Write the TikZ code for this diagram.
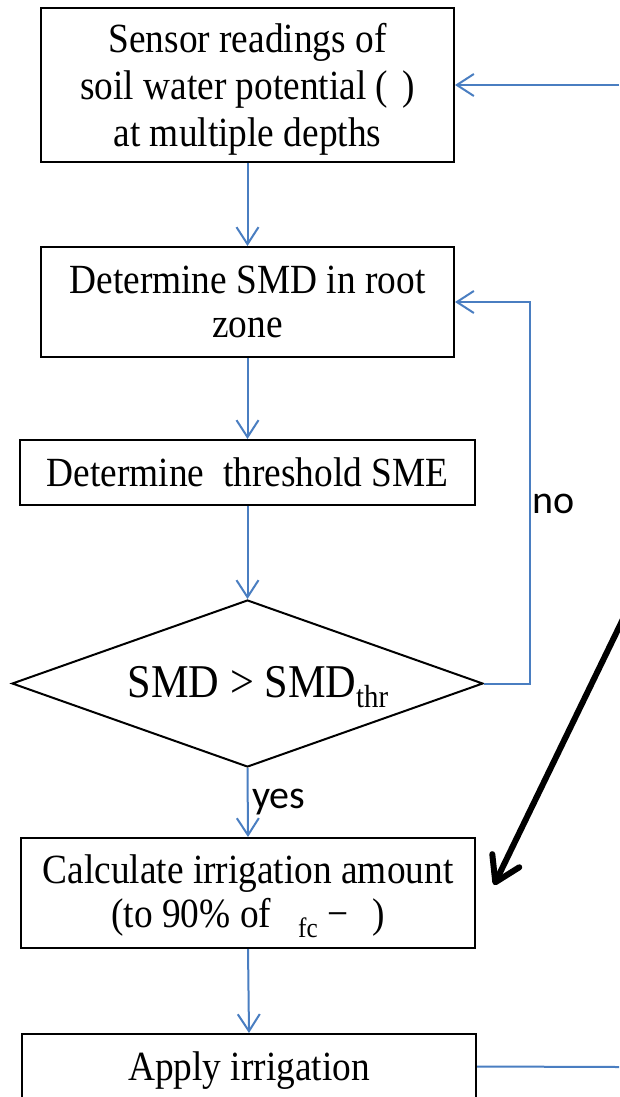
\documentclass[tikz,border=0pt]{standalone}
\usepackage{fontspec}
\setmainfont{Liberation Serif}[FakeStretch=0.9]
\newfontfamily\calib{Carlito}
\usetikzlibrary{arrows.meta,shapes.geometric}
\definecolor{flowblue}{RGB}{74,126,193}
\newcommand{\lowsub}[1]{\raisebox{-10pt}{\fontsize{28}{28}\selectfont #1}}
\newcommand{\topstrut}[1]{\rule{0pt}{#1}}
\begin{document}
\begin{tikzpicture}[x=1pt,y=-1pt,
  box/.style={draw=black,line width=2pt,inner sep=0pt,align=center,font=\fontsize{41.5}{44}\selectfont},
  decision/.style={draw=black,line width=2pt,shape=diamond,inner sep=0pt},
  dtext/.style={inner sep=0pt,anchor=base,font=\fontsize{47}{48}\selectfont},
  link/.style={draw=flowblue,line width=2pt,-{Straight Barb[length=17pt,width=22pt,line width=2pt]}},
  plain/.style={draw=flowblue,line width=2pt},
  bigarrow/.style={draw=black,line width=6pt,line cap=round,-{Straight Barb[length=24pt,width=30pt,line width=6pt,line cap=round,line join=round]}},
  lab/.style={font=\calib\fontsize{40}{48}\selectfont,inner sep=0pt,anchor=base west},
]
\useasboundingbox (0,0) rectangle (619,1097);

\node[box,font=\fontsize{41.5}{47}\selectfont,minimum width=413pt,minimum height=154pt] (b1) at (247.5,85)
  {\topstrut{38.8pt}Sensor readings of\\soil water potential (\hspace{14pt})\\at multiple depths};
\node[box,minimum width=413pt,minimum height=110pt] (b2) at (247.5,302)
  {Determine SMD in root\\zone};
\node[box,minimum width=455pt,minimum height=65pt] (b3) at (247.5,472.5)
  {Determine\ \ threshold SME};
\node[decision,minimum width=471pt,minimum height=167pt] (d) at (247.5,683.5) {};
\node[dtext] (dt) at (258,697) {SMD > SMD\raisebox{-10pt}{\fontsize{32}{32}\selectfont thr}};
\node[box,minimum width=454pt,minimum height=110pt] (b4) at (248,893)
  {\topstrut{34.5pt}Calculate irrigation amount\\(to 90\% of\hspace{27pt}\lowsub{fc} −\hspace{24pt})};
\node[box,minimum width=454pt,minimum height=65pt] (b5) at (249,1066.5)
  {\topstrut{36pt}Apply irrigation};

\coordinate (inR) at (619,85);
\coordinate (outR) at (619,1067);
\coordinate (nx1) at (530,683.5);
\coordinate (nx2) at (530,302);
\coordinate (bs) at (624,617);
\coordinate (be) at (494,885);

\draw[link] (inR) -- (b1.east);
\draw[link] (b1.south) -- (b2.north);
\draw[link] (b2.south) -- (b3.north);
\draw[link] (b3.south) -- (d.north);
\draw[link] (d.south) -- (b4.north);
\draw[link] (b4.south) -- (b5.north);
\draw[link] (d.east) -- (nx1) -- (nx2) -- (b2.east);
\draw[plain] (b5.east) -- (outR);
\draw[bigarrow] (bs) -- (be);

\node[lab] (no) at (532,513) {no};
\node[lab] (yes) at (252,808) {yes};
\end{tikzpicture}
\end{document}
